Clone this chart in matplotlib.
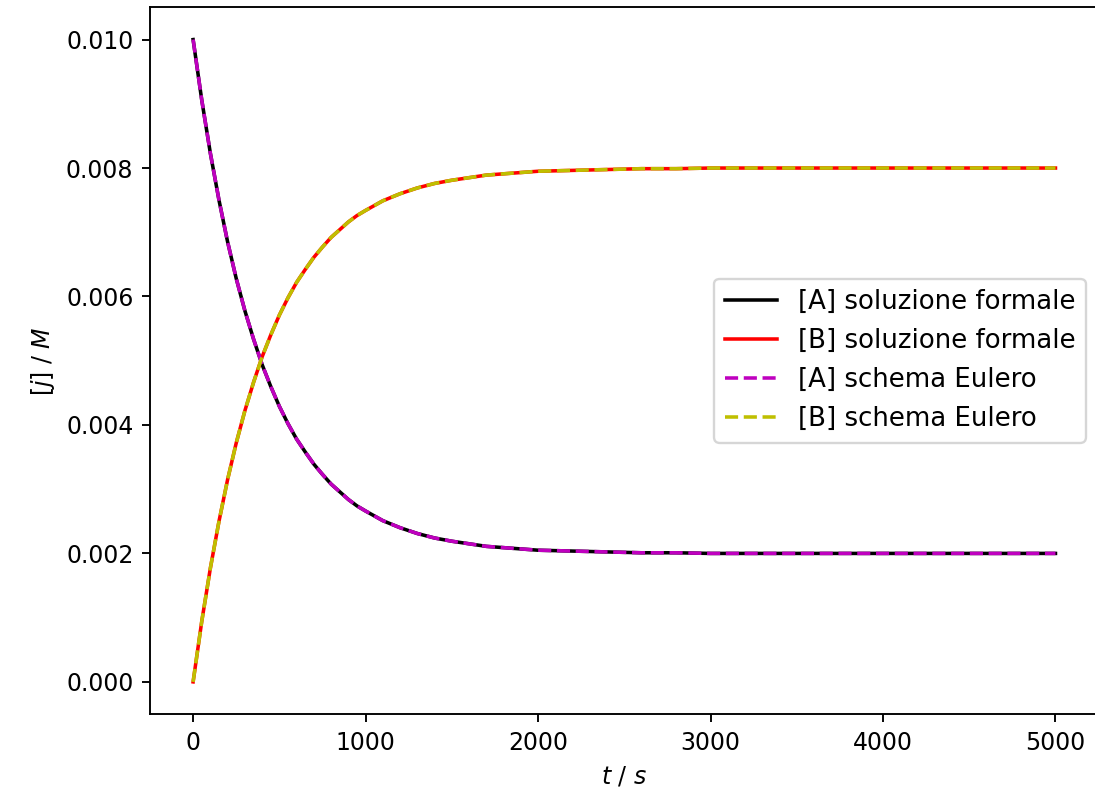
import numpy as np
import matplotlib
matplotlib.use("Agg")
import matplotlib.pyplot as plt

# time samples (s) and concentrations (M)
t = [0, 50, 100, 150, 200, 250, 300, 350, 400, 450, 500, 550, 600, 650, 700,
     750, 800, 850, 900, 950, 1000, 1100, 1200, 1300, 1400, 1500, 1600, 1700,
     1800, 1900, 2000, 2150, 2300, 2450, 2600, 2800, 3000, 4000, 5000]

a_formal = [0.01000, 0.00906, 0.00823, 0.00750, 0.00685, 0.00628, 0.00578,
            0.00534, 0.00494, 0.00460, 0.00429, 0.00402, 0.00378, 0.00358,
            0.00339, 0.00323, 0.00308, 0.00296, 0.00284, 0.00274, 0.00266,
            0.00251, 0.00240, 0.00231, 0.00224, 0.00219, 0.00215, 0.00211,
            0.00209, 0.00207, 0.00205, 0.00204, 0.00203, 0.00202, 0.00201,
            0.00201, 0.00200, 0.00200, 0.00200]
b_formal = [0.00000, 0.00094, 0.00177, 0.00250, 0.00315, 0.00372, 0.00422,
            0.00466, 0.00506, 0.00540, 0.00571, 0.00598, 0.00622, 0.00642,
            0.00661, 0.00677, 0.00692, 0.00704, 0.00716, 0.00726, 0.00734,
            0.00749, 0.00760, 0.00769, 0.00776, 0.00781, 0.00785, 0.00789,
            0.00791, 0.00793, 0.00795, 0.00796, 0.00797, 0.00798, 0.00799,
            0.00799, 0.00800, 0.00800, 0.00800]
a_euler = [0.01000, 0.00906, 0.00823, 0.00750, 0.00685, 0.00628, 0.00578,
           0.00534, 0.00494, 0.00460, 0.00429, 0.00402, 0.00378, 0.00358,
           0.00339, 0.00323, 0.00308, 0.00296, 0.00284, 0.00274, 0.00266,
           0.00251, 0.00240, 0.00231, 0.00224, 0.00219, 0.00215, 0.00211,
           0.00209, 0.00207, 0.00205, 0.00204, 0.00203, 0.00202, 0.00201,
           0.00201, 0.00200, 0.00200, 0.00200]
b_euler = [0.00000, 0.00094, 0.00177, 0.00250, 0.00315, 0.00372, 0.00422,
           0.00466, 0.00506, 0.00540, 0.00571, 0.00598, 0.00622, 0.00642,
           0.00661, 0.00677, 0.00692, 0.00704, 0.00716, 0.00726, 0.00734,
           0.00749, 0.00760, 0.00769, 0.00776, 0.00781, 0.00785, 0.00789,
           0.00791, 0.00793, 0.00795, 0.00796, 0.00797, 0.00798, 0.00799,
           0.00799, 0.00800, 0.00800, 0.00800]

fig, ax = plt.subplots(figsize=(6.447, 4.712), dpi=170)
# the reference is cropped: right spine falls just outside the image
fig.subplots_adjust(left=150 / 1096, right=1098.6 / 1096,
                    top=1 - 7.5 / 801, bottom=1 - 714 / 801)

ax.plot(t, a_formal, "k-", label="[A] soluzione formale")
ax.plot(t, b_formal, "r-", label="[B] soluzione formale")
ax.plot(t, a_euler, "m--", label="[A] schema Eulero")
ax.plot(t, b_euler, "y--", label="[B] schema Eulero")

ax.set_xlabel("$t$ / $s$")
ax.set_ylabel("$[j]$ / $M$")
ax.legend(loc="center right", fontsize=11)

plt.savefig("out.png", dpi=170)
